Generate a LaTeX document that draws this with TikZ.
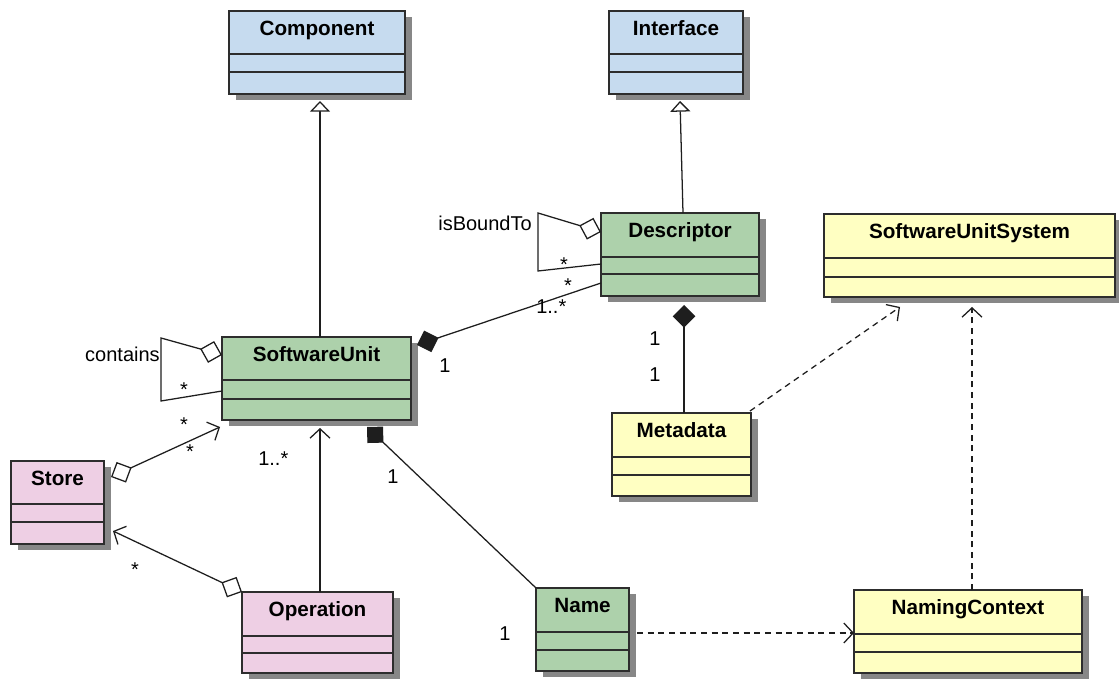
\documentclass[tikz,border=0pt]{standalone}
\usepackage{fontspec}
\setmainfont{Liberation Sans}
\usetikzlibrary{arrows.meta,calc}
\definecolor{cblue}{RGB}{198,219,239}
\definecolor{cgreen}{RGB}{173,209,171}
\definecolor{cpink}{RGB}{238,207,228}
\definecolor{cyellow}{RGB}{255,255,194}
\definecolor{cshadow}{RGB}{135,135,135}
\definecolor{cborder}{RGB}{45,45,45}
\definecolor{cline}{RGB}{30,30,30}
\tikzset{
  clsbox/.style={draw=cborder, line width=1.1pt, inner sep=0pt, outer sep=0pt, anchor=north west},
  clsline/.style={draw=cborder, line width=1.1pt},
  clsttl/.style={font=\bfseries\fontsize{15.5}{18}\selectfont, inner sep=0pt, anchor=base},
  lbl/.style={font=\fontsize{15}{18}\selectfont, inner sep=0pt},
  conn/.style={draw=cline, line width=0.95pt},
  gen/.style={conn, -{Triangle[open,length=8pt,width=15pt,fill=white]}},
  nav/.style={conn, -{Straight Barb[length=7pt,width=15pt]}},
  aggr/.style={conn, -{Diamond[open,length=17pt,width=17pt,fill=white]}},
  aggnav/.style={conn, {Diamond[open,length=17pt,width=17pt,fill=white]}-{Straight Barb[length=7pt,width=15pt]}},
  compo/.style={conn, -{Diamond[length=17pt,width=17pt]}},
  dep/.style={conn, dash pattern=on 4.5pt off 3.5pt, -{Straight Barb[length=7pt,width=15pt]}},
}
% #1 name, #2 fill, #3 left, #4 top, #5 right, #6 bottom, #7 line1, #8 line2, #9 title
\newcommand\umlcls[9]{%
  \fill[cshadow] ({#3+7},{#4+6}) rectangle ({#5+7},{#6+6});
  \node[clsbox, fill=#2, minimum width={(#5-#3)*0.75pt}, minimum height={(#6-#4)*0.75pt}] (#1) at (#3,#4) {};
  \draw[clsline] (#3,#7) -- (#5,#7) (#3,#8) -- (#5,#8);
  \node[clsttl] (#1t) at ({(#3+#5)/2},{#4+24.5}) {#9};
}
\begin{document}
\begin{tikzpicture}[x=0.75pt,y=-0.75pt]
\useasboundingbox (0,0) rectangle (1119,680);

\umlcls{comp}{cblue}{229}{11}{405}{94}{54}{72}{Component}
\umlcls{intf}{cblue}{609}{11}{743}{94}{54}{72}{Interface}
\umlcls{desc}{cgreen}{601}{213}{759}{296}{257}{274}{Descriptor}
\umlcls{sus}{cyellow}{824}{214}{1115}{297}{258}{277}{SoftwareUnitSystem}
\umlcls{su}{cgreen}{222}{337}{411}{420}{380}{399}{SoftwareUnit}
\umlcls{meta}{cyellow}{612}{413}{751}{496}{457}{475}{Metadata}
\umlcls{store}{cpink}{11}{461}{104}{544}{504}{522}{Store}
\umlcls{oper}{cpink}{242}{592}{393}{673}{636}{653}{Operation}
\umlcls{name}{cgreen}{536}{588}{629}{671}{632}{650}{Name}
\umlcls{nc}{cyellow}{854}{590}{1082}{673}{634}{652}{NamingContext}

% generalizations
\draw[gen] ($(su.north west)+(98,0)$) -- ($(comp.south west)+(91,7)$);
\draw[gen] ($(desc.north west)+(82,0)$) -- ($(intf.south west)+(71,7)$);

% contains (self aggregation)
\draw[aggr] ($(su.north west)+(0,54)$) -- ($(su.north west)+(-61,64)$) -- ($(su.north west)+(-61,1)$) -- ($(su.north west)+(0,18)$);
\node[lbl, anchor=base east] (lcontains) at (160,362) {contains};
\node[lbl, anchor=base] (scontains) at (184,396) {*};

% isBoundTo (self aggregation)
\draw[aggr] ($(desc.north west)+(0,51)$) -- ($(desc.north west)+(-63,58)$) -- ($(desc.north west)+(-63,0)$) -- ($(desc.north west)+(0,19)$);
\node[lbl, anchor=base east] (lbound) at (532,231) {isBoundTo};
\node[lbl, anchor=base] (sbound) at (564,272) {*};

% SoftwareUnit - Descriptor composition
\draw[compo] ($(desc.north west)+(0,70)$) -- ($(su.north east)+(6,8)$);
\node[lbl, anchor=base] (lsud1) at (445,373) {1};
\node[lbl, anchor=base west] (lsud2) at (536,314) {1..*};
\node[lbl, anchor=base] (lsud3) at (568,293) {*};

% Descriptor - Metadata composition
\draw[compo] ($(meta.north west)+(72,0)$) -- ($(desc.south west)+(83,9)$);
\node[lbl, anchor=base] (ldm1) at (655,346) {1};
\node[lbl, anchor=base] (ldm2) at (655,381) {1};

% dependencies
\draw[dep] ($(meta.north east)+(-1,-2)$) -- ($(sus.south west)+(76,10)$);
\draw[dep] ($(nc.north west)+(118,0)$) -- ($(sus.south west)+(148,10)$);
\draw[dep] ($(name.north east)+(8,45)$) -- ($(nc.north west)+(0,43)$);

% SoftwareUnit - Name composition
\draw[compo] (name.north west) -- ($(su.south west)+(145,7)$);
\node[lbl, anchor=base] (lsun1) at (393,483) {1};
\node[lbl, anchor=base] (lsun2) at (505,640) {1};

% Store - SoftwareUnit
\draw[aggnav] ($(store.north east)+(7,16)$) -- ($(su.south west)+(-2,7)$);
\node[lbl, anchor=base] (lss1) at (184,431) {*};
\node[lbl, anchor=base] (lss2) at (190,458) {*};

% Operation - Store
\draw[aggnav] (oper.north west) -- ($(store.north east)+(9,70)$);
\node[lbl, anchor=base] (los) at (135,576) {*};

% Operation - SoftwareUnit
\draw[nav] ($(oper.north west)+(78,0)$) -- ($(su.south west)+(98,8)$);
\node[lbl, anchor=base west] (lou) at (258,465) {1..*};
\end{tikzpicture}
\end{document}
